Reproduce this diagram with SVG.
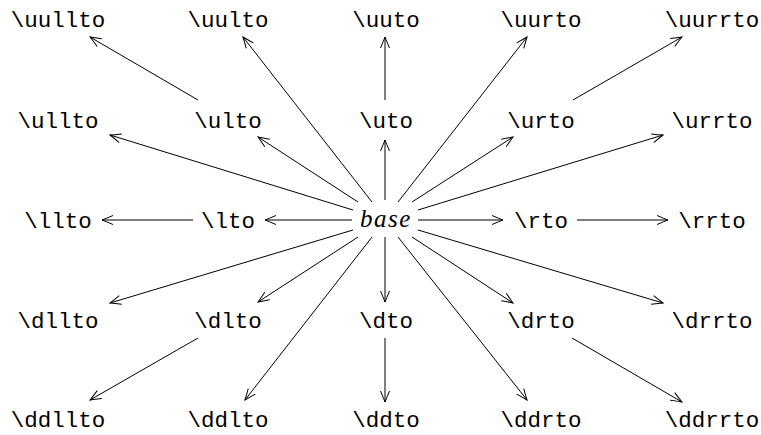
<svg xmlns="http://www.w3.org/2000/svg" width="761" height="435" viewBox="0 0 761 435">
<style>
.t{font-family:"Liberation Mono","DejaVu Sans Mono",monospace;font-size:22.5px;fill:#000;text-anchor:middle}
.b{font-family:"Liberation Serif","DejaVu Serif",serif;font-style:italic;font-size:25px;letter-spacing:1.5px;fill:#000;text-anchor:middle}
.c line{stroke:#000;stroke-width:1;fill:none;marker-end:url(#ah)}
</style>
<defs>
<marker id="ah" markerUnits="userSpaceOnUse" viewBox="-12 -6 14 12" refX="0" refY="0" markerWidth="14" markerHeight="12" orient="auto" overflow="visible">
<path d="M-11,-4.5 Q-4,-1.5 0,0 Q-4,1.5 -11,4.5" fill="none" stroke="#000" stroke-width="1"/>
</marker>
</defs>
<rect width="761" height="435" fill="#fff"/>
<g class="c" id="connectors">
<line x1="198" y1="100" x2="90" y2="37"/>
<line x1="372" y1="202" x2="243" y2="37"/>
<line x1="385" y1="100" x2="385" y2="37"/>
<line x1="398" y1="202" x2="527" y2="37"/>
<line x1="573" y1="100" x2="682" y2="37"/>
<line x1="353" y1="210" x2="110" y2="135"/>
<line x1="358" y1="202" x2="258" y2="137"/>
<line x1="385" y1="200" x2="385" y2="140"/>
<line x1="412" y1="202" x2="513" y2="137"/>
<line x1="418" y1="210" x2="663" y2="135"/>
<line x1="193" y1="220" x2="102" y2="220"/>
<line x1="352" y1="220" x2="265" y2="220"/>
<line x1="418" y1="220" x2="503" y2="220"/>
<line x1="577" y1="220" x2="668" y2="220"/>
<line x1="353" y1="230" x2="110" y2="303"/>
<line x1="358" y1="237" x2="258" y2="302"/>
<line x1="385" y1="237" x2="385" y2="302"/>
<line x1="412" y1="237" x2="513" y2="303"/>
<line x1="418" y1="230" x2="663" y2="303"/>
<line x1="198" y1="338" x2="90" y2="400"/>
<line x1="372" y1="237" x2="245" y2="400"/>
<line x1="385" y1="338" x2="385" y2="402"/>
<line x1="398" y1="237" x2="527" y2="400"/>
<line x1="572" y1="338" x2="682" y2="402"/>
</g>
<g id="uullto"><text class="t" x="58" y="27">\uullto</text></g>
<g id="uulto"><text class="t" x="228" y="27">\uulto</text></g>
<g id="uuto"><text class="t" x="386" y="27">\uuto</text></g>
<g id="uurto"><text class="t" x="541" y="27">\uurto</text></g>
<g id="uurrto"><text class="t" x="712" y="27">\uurrto</text></g>
<g id="ullto"><text class="t" x="58" y="128">\ullto</text></g>
<g id="ulto"><text class="t" x="228" y="128">\ulto</text></g>
<g id="uto"><text class="t" x="386" y="128">\uto</text></g>
<g id="urto"><text class="t" x="541" y="128">\urto</text></g>
<g id="urrto"><text class="t" x="712" y="128">\urrto</text></g>
<g id="llto"><text class="t" x="58" y="228">\llto</text></g>
<g id="lto"><text class="t" x="228" y="228">\lto</text></g>
<g id="base"><text class="b" x="386" y="227">base</text></g>
<g id="rto"><text class="t" x="541" y="228">\rto</text></g>
<g id="rrto"><text class="t" x="712" y="228">\rrto</text></g>
<g id="dllto"><text class="t" x="58" y="328">\dllto</text></g>
<g id="dlto"><text class="t" x="228" y="328">\dlto</text></g>
<g id="dto"><text class="t" x="386" y="328">\dto</text></g>
<g id="drto"><text class="t" x="541" y="328">\drto</text></g>
<g id="drrto"><text class="t" x="712" y="328">\drrto</text></g>
<g id="ddllto"><text class="t" x="58" y="427">\ddllto</text></g>
<g id="ddlto"><text class="t" x="228" y="427">\ddlto</text></g>
<g id="ddto"><text class="t" x="386" y="427">\ddto</text></g>
<g id="ddrto"><text class="t" x="541" y="427">\ddrto</text></g>
<g id="ddrrto"><text class="t" x="712" y="427">\ddrrto</text></g>
</svg>
